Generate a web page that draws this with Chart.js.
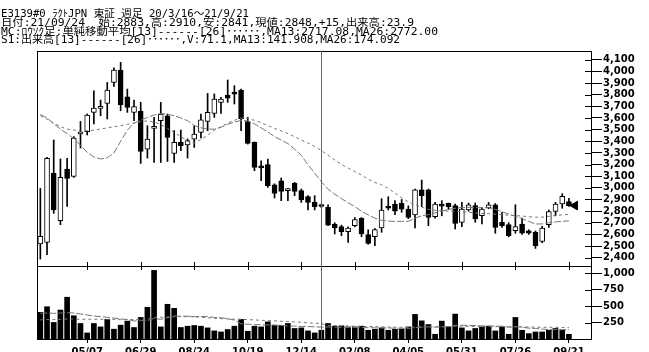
<!DOCTYPE html>
<html>
<head>
<meta charset="utf-8">
<script src="https://cdn.jsdelivr.net/npm/chart.js@4.4.1/dist/chart.umd.min.js"></script>
<style>
html, body { margin: 0; padding: 0; background: #fff; overflow: hidden; }
#wrap { position: relative; width: 649px; height: 352px; }
canvas { position: absolute; left: 0; top: 0; }
#head { position: absolute; left: 1px; top: 10px; font-family: "DejaVu Sans Mono", "Noto Sans CJK JP", monospace; font-size: 10px; line-height: 8.8px; color: #000; }
#head div { white-space: pre; width: max-content; transform-origin: 0 0; }
</style>
</head>
<body>
<div id="wrap">
  <canvas id="chart" width="649" height="352"></canvas>
  <div id="head">
    <div data-w="248">E3139#0 ﾗｸﾄJPN 東証 週足 20/3/16～21/9/21</div>
    <div data-w="413">日付:21/09/24  始:2883,高:2910,安:2841,現値:2848,+15,出来高:23.9</div>
    <div data-w="437">MC:ﾛｳｿｸ足:単純移動平均[13]------[26]･･････,MA13:2717.08,MA26:2772.00</div>
    <div data-w="399">S1:出来高[13]------[26]･･････,V:71.1,MA13:141.908,MA26:174.092</div>
  </div>
</div>
<script>
// weekly candles, 20/3/16 .. 21/9/21 (80 weeks)
const opens = [2518,2532,3124,2718,3162,3098,3462,3482,3648,3682,
  3725,3905,4012,3782,3648,3656,3333,3510,3576,3619,
  3296,3390,3368,3419,3476,3570,3639,3734,3797,3815,
  3840,3570,3390,3180,3199,3027,3061,2976,3038,2976,
  2924,2875,2850,2832,2688,2667,2624,2675,2738,2598,
  2581,2655,2830,2858,2867,2818,2767,2982,2982,2752,
  2860,2867,2847,2703,2810,2847,2761,2827,2855,2703,
  2684,2632,2690,2632,2618,2540,2684,2797,2861,2883];
const highs = [2995,3262,3411,3248,3253,3440,3570,3634,3834,3754,
  3905,4030,4077,3848,3754,3734,3533,3605,3734,3634,
  3491,3497,3420,3533,3634,3811,3806,3777,3926,3877,
  3848,3605,3395,3233,3248,3035,3085,2995,3047,2990,
  2933,2933,2860,2855,2700,2680,2665,2745,2745,2640,
  2650,2907,2924,2890,2900,2845,2990,3067,2990,2875,
  2890,2870,2861,2875,2870,2870,2830,2875,2865,2790,
  2700,2855,2740,2640,2630,2670,2810,2875,2950,2910];
const lows = [2389,2426,2781,2684,2841,3090,3342,3454,3548,3619,
  3591,3870,3662,3648,3576,3210,3256,3218,3218,3227,
  3218,3319,3256,3347,3428,3491,3605,3639,3734,3720,
  3491,3376,3147,3061,3004,2913,2890,2890,2933,2875,
  2810,2810,2830,2675,2604,2590,2532,2665,2580,2515,
  2503,2618,2810,2770,2790,2735,2655,2838,2675,2740,
  2760,2815,2647,2666,2800,2705,2690,2820,2610,2660,
  2580,2610,2600,2600,2480,2530,2660,2760,2825,2841];
const closes = [2583,3253,2810,3090,3081,3428,3482,3625,3685,3690,
  3840,4012,3711,3691,3697,3313,3419,3527,3634,3433,
  3390,3362,3405,3462,3585,3648,3763,3763,3771,3805,
  3591,3382,3176,3172,3018,2952,2970,2990,2970,2896,
  2875,2838,2840,2680,2655,2624,2655,2727,2604,2523,
  2641,2810,2825,2800,2818,2746,2982,2933,2746,2861,
  2843,2838,2695,2818,2855,2733,2818,2855,2660,2675,
  2589,2667,2610,2610,2503,2655,2797,2861,2927,2848];
const ma13 = [3630,3600,3550,3505,3465,3425,3365,3305,3265,3248,
  3258,3300,3400,3495,3555,3580,3605,3625,3639,3632,
  3619,3600,3576,3535,3515,3505,3503,3520,3545,3565,
  3578,3576,3550,3515,3480,3440,3410,3380,3333,3280,
  3198,3126,3052,2990,2945,2908,2872,2840,2798,2768,
  2740,2721,2715,2712,2712,2713,2740,2760,2770,2785,
  2800,2815,2825,2832,2832,2830,2830,2828,2815,2795,
  2775,2755,2735,2712,2690,2690,2700,2708,2712,2717];
const ma26 = [3620,3590,3555,3525,3505,3495,3491,3490,3495,3505,
  3515,3525,3533,3545,3558,3568,3575,3565,3545,3510,
  3475,3440,3400,3385,3415,3452,3495,3525,3555,3580,
  3600,3595,3580,3560,3535,3510,3490,3465,3440,3410,
  3385,3355,3320,3280,3240,3200,3170,3140,3110,3075,
  3045,3027,2995,2955,2915,2880,2855,2835,2815,2808,
  2803,2800,2798,2795,2790,2785,2780,2778,2775,2770,
  2765,2762,2758,2752,2748,2748,2755,2762,2768,2772];
const volume = [405,491,252,440,635,353,236,92,236,184,
  298,149,210,272,175,328,482,1043,184,528,
  466,175,195,205,195,169,123,107,144,195,
  298,118,195,184,261,210,205,236,160,169,
  123,92,133,236,195,200,184,184,195,133,
  149,169,133,149,149,184,374,276,220,72,
  272,184,379,169,123,160,184,195,123,184,
  72,328,133,82,107,107,133,160,133,71];
const volMa13 = [390,395,390,395,400,395,380,365,350,340,
  330,318,306,296,275,278,282,312,300,322,
  350,346,347,340,343,340,328,322,309,287,
  230,225,220,215,215,210,205,200,195,191,
  190,185,180,182,180,178,176,175,174,172,
  170,168,168,165,162,160,172,180,185,180,
  185,190,208,210,205,205,200,198,195,195,
  180,185,180,165,160,150,145,143,142,142];
const volMa26 = [290,295,295,300,305,305,300,300,300,300,
  300,298,295,295,295,298,305,330,330,335,
  340,340,340,338,330,323,315,310,305,300,
  300,295,290,285,280,275,270,265,260,255,
  245,240,235,205,205,200,198,195,192,190,
  188,185,182,180,178,176,182,185,187,185,
  187,188,195,195,192,190,190,190,188,188,
  185,187,185,182,180,178,178,177,175,174];

const xTickWeek = [8,16,24,32,40,48,56,64,72,80];
const xTickLabels = ['05/07','06/29','08/24','10/19','12/14','02/08','04/05','05/31','07/26','09/21'];
const priceTicks = [2400,2500,2600,2700,2800,2900,3000,3100,3200,3300,3400,3500,3600,3700,3800,3900,4000,4100];
const volTicks = [250,500,750,1000];
const cursorWeek = 43;
const lastPrice = 2848;

const xy = arr => arr.map((v, i) => ({ x: i + 1, y: v }));
const tickFont = { family: 'DejaVu Sans', weight: 'bold', size: 10 };

const decor = {
  id: 'decor',
  afterDraw(chart) {
    const { ctx, chartArea: a, scales } = chart;
    const { x, y, yv } = scales;
    ctx.save();
    ctx.lineWidth = 1;
    ctx.strokeStyle = '#000';
    ctx.beginPath();
    ctx.moveTo(a.left, a.top + 0.5); ctx.lineTo(a.right, a.top + 0.5);
    ctx.moveTo(a.left + 0.5, a.top); ctx.lineTo(a.left + 0.5, a.bottom);
    ctx.moveTo(a.left, Math.round(yv.top) + 0.5); ctx.lineTo(a.right, Math.round(yv.top) + 0.5);
    [y, yv].forEach(s => s.ticks.forEach(t => {
      const py = Math.round(s.getPixelForValue(t.value)) + 0.5;
      ctx.moveTo(a.right - 6, py); ctx.lineTo(a.right, py);
    }));
    xTickWeek.forEach(w => {
      const px = Math.round(x.getPixelForValue(w)) + 0.5;
      ctx.moveTo(px, yv.top - 4); ctx.lineTo(px, yv.top + 4);
      ctx.moveTo(px, a.bottom - 4); ctx.lineTo(px, a.bottom);
    });
    ctx.stroke();
    ctx.strokeStyle = '#666';
    ctx.beginPath();
    const cx = Math.round(x.getPixelForValue(cursorWeek)) + 0.5;
    ctx.moveTo(cx, a.top); ctx.lineTo(cx, a.bottom);
    ctx.stroke();
    ctx.restore();
  }
};

document.querySelectorAll('#head div').forEach(el => {
  const w = el.getBoundingClientRect().width;
  el.style.transform = 'scaleX(' + (el.dataset.w / w) + ')';
});

new Chart(document.getElementById('chart'), {
  type: 'bar',
  data: {
    datasets: [
      {
        label: 'wick', data: lows.map((l, i) => ({ x: i + 1, y: [l, highs[i]] })),
        backgroundColor: '#000', barThickness: 1, grouped: false, order: 4, yAxisID: 'y'
      },
      {
        label: 'body', data: opens.map((o, i) => ({ x: i + 1, y: [o, closes[i]] })),
        backgroundColor: opens.map((o, i) => closes[i] >= o ? '#fff' : '#000'),
        borderColor: '#000', borderWidth: 1, borderSkipped: false,
        barThickness: 5, minBarLength: 2, grouped: false, order: 3, yAxisID: 'y'
      },
      {
        type: 'line', label: 'MA13', data: xy(ma13), yAxisID: 'y',
        borderColor: '#777', borderWidth: 1, borderDash: [7, 2], pointRadius: 0, order: 1
      },
      {
        type: 'line', label: 'MA26', data: xy(ma26), yAxisID: 'y',
        borderColor: '#777', borderWidth: 1, borderDash: [3, 3], pointRadius: 0, order: 1
      },
      {
        type: 'line', label: 'last', data: [{ x: closes.length + 0.9, y: lastPrice }], yAxisID: 'y',
        showLine: false, pointStyle: 'triangle', rotation: 270, pointRadius: 5,
        pointBackgroundColor: '#000', pointBorderColor: '#000', order: 0
      },
      {
        label: 'volume', data: xy(volume), yAxisID: 'yv',
        backgroundColor: '#000', barThickness: 5, grouped: false, order: 3
      },
      {
        type: 'line', label: 'VMA13', data: xy(volMa13), yAxisID: 'yv',
        borderColor: '#777', borderWidth: 1, borderDash: [7, 2], pointRadius: 0, order: 1
      },
      {
        type: 'line', label: 'VMA26', data: xy(volMa26), yAxisID: 'yv',
        borderColor: '#777', borderWidth: 1, borderDash: [3, 3], pointRadius: 0, order: 1
      }
    ]
  },
  options: {
    responsive: false,
    animation: false,
    layout: { padding: { left: 37, top: 51, right: 0, bottom: 0 } },
    plugins: { legend: { display: false }, tooltip: { enabled: false } },
    scales: {
      x: {
        type: 'linear', min: 0.5, max: 83.3, bounds: 'data', offset: false,
        afterBuildTicks: s => { s.ticks = xTickWeek.map(v => ({ value: v })); },
        afterFit: s => { s.height = 13; },
        ticks: { callback: (v, i) => xTickLabels[i], font: tickFont, color: '#000', padding: 3, maxRotation: 0, autoSkip: false },
        grid: { drawOnChartArea: false, tickLength: 4, color: '#000', offset: false },
        border: { color: '#000' }
      },
      y: {
        position: 'right', stack: 'panels', stackWeight: 215,
        min: 2329, max: 4175, bounds: 'data',
        afterBuildTicks: s => { s.ticks = priceTicks.map(v => ({ value: v })); },
        afterFit: s => { s.width = 58; },
        ticks: { callback: v => v.toLocaleString('en-US'), font: tickFont, color: '#000', padding: 1, autoSkip: false },
        grid: { drawOnChartArea: false, tickLength: 11, color: '#000' },
        border: { color: '#000' }
      },
      yv: {
        position: 'right', stack: 'panels', stackWeight: 73,
        min: 0, max: 1110, bounds: 'data',
        afterBuildTicks: s => { s.ticks = volTicks.map(v => ({ value: v })); },
        afterFit: s => { s.width = 58; },
        ticks: { callback: v => v.toLocaleString('en-US'), font: tickFont, color: '#000', padding: 1, autoSkip: false },
        grid: { drawOnChartArea: false, tickLength: 11, color: '#000' },
        border: { color: '#000' }
      }
    }
  },
  plugins: [decor]
});
</script>
</body>
</html>
